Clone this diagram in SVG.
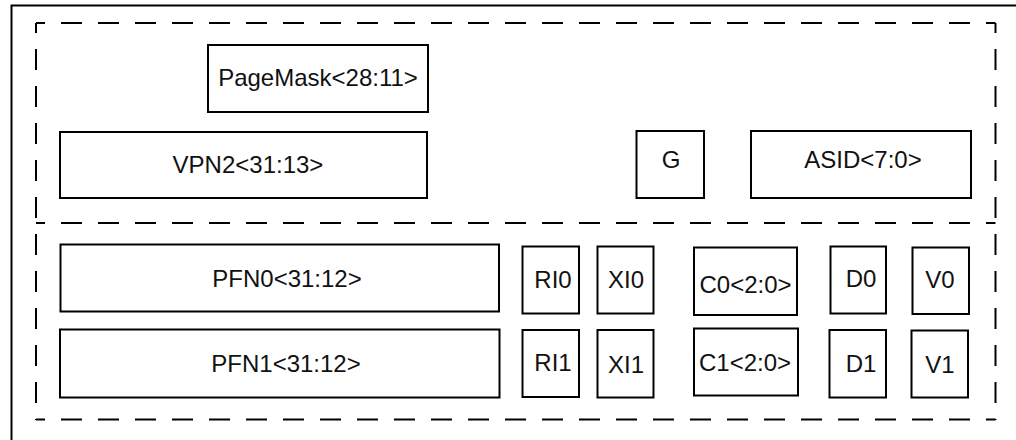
<svg xmlns="http://www.w3.org/2000/svg" width="1016" height="440" viewBox="0 0 1016 440">
<style>
.box{fill:#fff;stroke:#000;stroke-width:2}
.frame{fill:none;stroke:#000;stroke-width:2}
.dash{fill:none;stroke:#000;stroke-width:2;stroke-dasharray:21 16}
text{font-family:"Liberation Sans",Arial,sans-serif;font-size:24px;fill:#111;text-anchor:middle}
</style>
<rect width="1016" height="440" fill="#fff"/>
<g id="frames">
<path class="frame" d="M11.5,445 V5.5 H1030"/>
<line class="dash" x1="36" y1="23" x2="995.5" y2="23" stroke-dashoffset="12"/>
<line class="dash" x1="36" y1="223" x2="995.5" y2="223" stroke-dashoffset="12"/>
<line class="dash" x1="36" y1="419.5" x2="995.5" y2="419.5" stroke-dashoffset="12"/>
<line class="dash" x1="36" y1="23" x2="36" y2="420" stroke-dashoffset="11"/>
<line class="dash" x1="995.5" y1="23" x2="995.5" y2="420" stroke-dashoffset="11"/>
</g>
<g id="pagemask"><rect class="box" x="208" y="45" width="220" height="67"/><text x="318" y="86">PageMask&lt;28:11&gt;</text></g>
<g id="vpn2"><rect class="box" x="60" y="132" width="367" height="66"/><text x="248" y="173">VPN2&lt;31:13&gt;</text></g>
<g id="g"><rect class="box" x="636.5" y="131" width="67.5" height="67"/><text x="671" y="168">G</text></g>
<g id="asid"><rect class="box" x="751" y="131" width="220" height="67"/><text x="863" y="168">ASID&lt;7:0&gt;</text></g>
<g id="pfn0"><rect class="box" x="60.5" y="244.5" width="438.5" height="67"/><text x="287" y="287">PFN0&lt;31:12&gt;</text></g>
<g id="pfn1"><rect class="box" x="60" y="329.5" width="439.5" height="68"/><text x="286" y="372">PFN1&lt;31:12&gt;</text></g>
<g id="ri0"><rect class="box" x="522.5" y="246.5" width="56.5" height="67"/><text x="553" y="288">RI0</text></g>
<g id="xi0"><rect class="box" x="597.5" y="246.5" width="56" height="67"/><text x="626" y="288">XI0</text></g>
<g id="c0"><rect class="box" x="694" y="247.5" width="103" height="67.5"/><text x="745.5" y="293">C0&lt;2:0&gt;</text></g>
<g id="d0"><rect class="box" x="830.5" y="246.5" width="55.5" height="67"/><text x="861" y="287">D0</text></g>
<g id="v0"><rect class="box" x="912.5" y="247.5" width="56.5" height="66.5"/><text x="940" y="288">V0</text></g>
<g id="ri1"><rect class="box" x="522.5" y="330" width="56.5" height="67"/><text x="553" y="371">RI1</text></g>
<g id="xi1"><rect class="box" x="597.5" y="330" width="56" height="67.5"/><text x="626" y="373">XI1</text></g>
<g id="c1"><rect class="box" x="694" y="328.5" width="104" height="67"/><text x="745" y="371">C1&lt;2:0&gt;</text></g>
<g id="d1"><rect class="box" x="829.5" y="330" width="56.5" height="67.5"/><text x="861" y="372">D1</text></g>
<g id="v1"><rect class="box" x="911.5" y="330.5" width="56.5" height="67"/><text x="940" y="373">V1</text></g>
</svg>
